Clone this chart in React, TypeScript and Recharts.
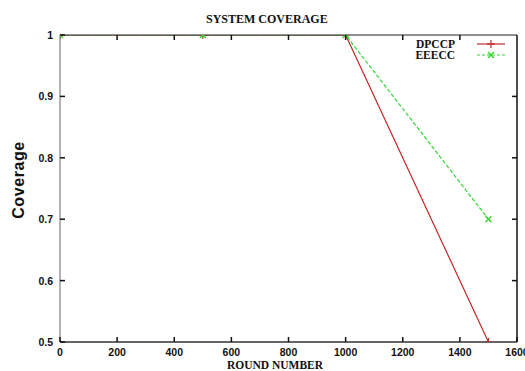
import { LineChart, Line, XAxis, YAxis, Legend } from "recharts";

const rounds = [0, 500, 1000, 1500];
const dpccpValues = [1, 1, 1, 0.5];
const eeeccValues = [1, 1, 1, 0.7];
const xTicks = [0, 200, 400, 600, 800, 1000, 1200, 1400, 1600];
const yTicks = [0.5, 0.6, 0.7, 0.8, 0.9, 1];

const data = rounds.map((r, i) => ({ round: r, dpccp: dpccpValues[i], eeecc: eeeccValues[i] }));

const RED = "#c02828";
const GREEN = "#36d636";
const tickFont = '"Liberation Sans", Arial, sans-serif';
const serif = '"Liberation Serif", "Times New Roman", serif';

function PlusDot(props: any) {
  const { cx, cy } = props;
  if (cx == null || cy == null) return null;
  return (
    <g stroke={RED} strokeWidth={1.2}>
      <line x1={cx - 4} y1={cy} x2={cx + 4} y2={cy} />
      <line x1={cx} y1={cy - 4} x2={cx} y2={cy + 4} />
    </g>
  );
}

function CrossDot(props: any) {
  const { cx, cy } = props;
  if (cx == null || cy == null) return null;
  return (
    <g stroke={GREEN} strokeWidth={1.5}>
      <line x1={cx - 3} y1={cy - 3} x2={cx + 3} y2={cy + 3} />
      <line x1={cx - 3} y1={cy + 3} x2={cx + 3} y2={cy - 3} />
    </g>
  );
}

// gnuplot style: tick marks point into the plot, labels outside
function BottomTick(props: any) {
  const { x, y, payload } = props;
  return (
    <g>
      <line x1={x} y1={y} x2={x} y2={y - 5} stroke="#111" strokeWidth={1.5} />
      <text x={x} y={y + 14} textAnchor="middle" fontSize={10.5} fontWeight="bold" fontFamily={tickFont} fill="#111">
        {payload.value}
      </text>
    </g>
  );
}

function LeftTick(props: any) {
  const { x, y, payload } = props;
  return (
    <g>
      <line x1={x} y1={y} x2={x + 5} y2={y} stroke="#111" strokeWidth={1.5} />
      <text x={x - 7} y={y + 4} textAnchor="end" fontSize={10.5} fontWeight="bold" fontFamily={tickFont} fill="#111">
        {payload.value}
      </text>
    </g>
  );
}

function TopTick(props: any) {
  const { x, y } = props;
  return <line x1={x} y1={y} x2={x} y2={y + 5} stroke="#111" strokeWidth={1.5} />;
}

function RightTick(props: any) {
  const { x, y } = props;
  return <line x1={x} y1={y} x2={x - 5} y2={y} stroke="#111" strokeWidth={1.5} />;
}

function LegendBox() {
  const rows = [
    { name: "DPCCP", color: RED, dash: undefined, Dot: PlusDot },
    { name: "EEECC", color: GREEN, dash: "3 2", Dot: CrossDot },
  ];
  return (
    <div>
      {rows.map((r) => (
        <div key={r.name} style={{ display: "flex", alignItems: "center", height: 11.5 }}>
          <span style={{ width: 56, textAlign: "right", fontFamily: serif, fontWeight: "bold", fontSize: 11.5, color: "#111" }}>
            {r.name}
          </span>
          <svg width={30} height={10} style={{ marginLeft: 21 }}>
            <line x1={1} y1={5} x2={29} y2={5} stroke={r.color} strokeWidth={1.2} strokeDasharray={r.dash} />
            <r.Dot cx={15} cy={5} />
          </svg>
        </div>
      ))}
    </div>
  );
}

export default function App() {
  return (
    <div style={{ position: "absolute", left: 0, top: 0, width: 525, height: 371, background: "#fff" }}>
      <div
        style={{
          position: "absolute",
          left: 206,
          top: 12,
          fontFamily: serif,
          fontWeight: "bold",
          fontSize: 12,
          color: "#111",
          whiteSpace: "nowrap",
        }}
      >
        SYSTEM COVERAGE
      </div>
      <LineChart width={525} height={371} data={data} margin={{ top: 34, right: 7, bottom: 0, left: 0 }}>
        <XAxis
          dataKey="round"
          type="number"
          domain={[0, 1600]}
          ticks={xTicks}
          allowDataOverflow
          height={29}
          tickSize={0}
          tickMargin={0}
          tickLine={false}
          axisLine={{ stroke: "#333", strokeWidth: 1.5 }}
          tick={<BottomTick />}
          interval={0}
          label={(p: any) => (
            <text x={275} y={369} textAnchor="middle" fontFamily={serif} fontWeight="bold" fontSize={11.5} fill="#111">
              ROUND NUMBER
            </text>
          )}
        />
        <XAxis
          xAxisId="top"
          orientation="top"
          dataKey="round"
          type="number"
          domain={[0, 1600]}
          ticks={xTicks.slice(1, -1)}
          allowDataOverflow
          height={1}
          tickSize={0}
          tickMargin={0}
          tickLine={false}
          axisLine={{ stroke: "#222", strokeWidth: 1.2 }}
          tick={<TopTick />}
          interval={0}
        />
        <YAxis
          type="number"
          domain={[0.5, 1]}
          ticks={yTicks}
          allowDataOverflow
          width={60}
          tickSize={0}
          tickMargin={0}
          tickLine={false}
          axisLine={{ stroke: "#999", strokeWidth: 1.5 }}
          tick={<LeftTick />}
          interval={0}
          label={(p: any) => (
            <text
              x={18}
              y={180}
              transform="rotate(-90 18 180)"
              textAnchor="middle"
              dominantBaseline="central"
              fontFamily={tickFont}
              fontWeight="bold"
              fontSize={16}
              letterSpacing={0.6}
              fill="#111"
            >
              Coverage
            </text>
          )}
        />
        <YAxis
          yAxisId="right"
          orientation="right"
          type="number"
          domain={[0.5, 1]}
          ticks={yTicks.slice(1, -1)}
          allowDataOverflow
          width={1}
          tickSize={0}
          tickMargin={0}
          tickLine={false}
          axisLine={{ stroke: "#111", strokeWidth: 1.5 }}
          tick={<RightTick />}
          interval={0}
        />
        <Legend
          layout="vertical"
          align="center"
          verticalAlign="middle"
          wrapperStyle={{ left: 399, top: 38, width: 110, height: 25 }}
          content={() => <LegendBox />}
        />
        {/* invisible series so the mirrored top/right frame axes get drawn */}
        <Line
          xAxisId="top"
          yAxisId="right"
          dataKey="dpccp"
          stroke="none"
          dot={false}
          activeDot={false}
          legendType="none"
          isAnimationActive={false}
        />
        <Line
          dataKey="dpccp"
          name="DPCCP"
          stroke={RED}
          strokeWidth={1.2}
          dot={<PlusDot />}
          activeDot={false}
          isAnimationActive={false}
        />
        <Line
          dataKey="eeecc"
          name="EEECC"
          stroke={GREEN}
          strokeWidth={1.2}
          strokeDasharray="4 2"
          dot={<CrossDot />}
          activeDot={false}
          isAnimationActive={false}
        />
      </LineChart>
    </div>
  );
}
